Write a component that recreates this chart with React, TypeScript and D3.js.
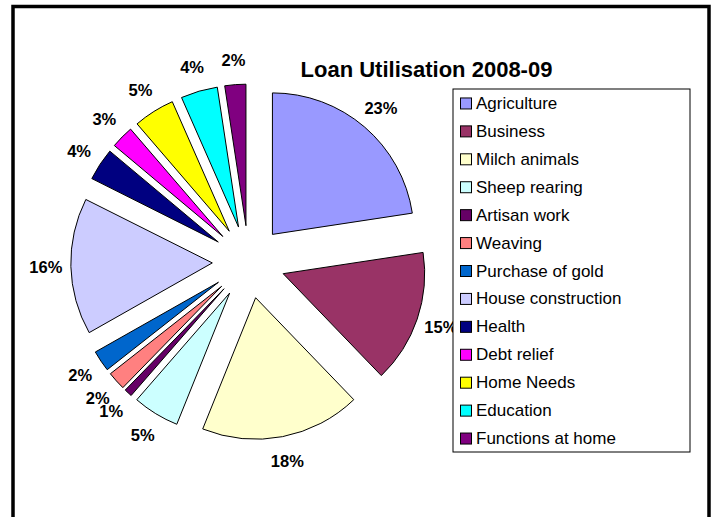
import * as d3 from "d3";

const categories = [
  "Agriculture",
  "Business",
  "Milch animals",
  "Sheep rearing",
  "Artisan work",
  "Weaving",
  "Purchase of gold",
  "House construction",
  "Health",
  "Debt relief",
  "Home Needs",
  "Education",
  "Functions at home",
];

// share of loans (%)
const shares = [22.6, 15.2, 18.3, 5.3, 0.9, 2.1, 2.4, 15.6, 3.7, 2.6, 4.7, 4.2, 2.4];

const colors = [
  "#9999FF",
  "#993366",
  "#FFFFCC",
  "#CCFFFF",
  "#660066",
  "#FF8080",
  "#0066CC",
  "#CCCCFF",
  "#000080",
  "#FF00FF",
  "#FFFF00",
  "#00FFFF",
  "#800080",
];

const title = "Loan Utilisation 2008-09";

const width = 717;
const height = 517;
const cx = 248.7;
const cy = 262;
const radius = 141.5;
const explode = 36.4;
const labelGap = 25;

const legendX = 453;
const legendY = 89;
const legendW = 237;
const legendH = 363;

export default function App() {
  const total = d3.sum(shares);
  const slices = d3
    .pie<number>()
    .sort(null)
    .value((d) => d)(shares);
  const arc = d3
    .arc<d3.PieArcDatum<number>>()
    .innerRadius(0)
    .outerRadius(radius);

  const rows = d3
    .scaleBand<string>()
    .domain(categories)
    .range([legendY, legendY + legendH]);

  return (
    <svg
      width={width}
      height={height}
      style={{ position: "fixed", left: 0, top: 0, background: "#fff" }}
      fontFamily="'Liberation Sans', Arial, sans-serif"
    >
      <rect x={0} y={0} width={width} height={height} fill="#fff" />
      <rect
        x={13}
        y={6.5}
        width={696}
        height={600}
        fill="none"
        stroke="#000"
        strokeWidth={3.5}
      />

      {slices.map((s, i) => {
        const mid = (s.startAngle + s.endAngle) / 2;
        const dx = Math.sin(mid);
        const dy = -Math.cos(mid);
        const ox = cx + dx * explode;
        const oy = cy + dy * explode;
        const lr = radius + labelGap;
        return (
          <g key={categories[i]}>
            <path
              d={arc(s) ?? ""}
              transform={`translate(${ox},${oy})`}
              fill={colors[i]}
              stroke="#000"
              strokeWidth={1}
              strokeLinejoin="round"
            />
            <text
              x={ox + dx * lr}
              y={oy + dy * lr}
              dy="0.36em"
              textAnchor="middle"
              fontSize={16.5}
              fontWeight="bold"
              fill="#000"
            >
              {Math.round((s.value / total) * 100)}%
            </text>
          </g>
        );
      })}

      <text
        x={426.5}
        y={77}
        textAnchor="middle"
        fontSize={22}
        fontWeight="bold"
        fill="#000"
      >
        {title}
      </text>

      <rect
        x={legendX}
        y={legendY}
        width={legendW}
        height={legendH}
        fill="#fff"
        stroke="#000"
        strokeWidth={1}
      />
      {categories.map((c, i) => {
        const yc = (rows(c) ?? 0) + rows.bandwidth() / 2;
        return (
          <g key={c}>
            <rect
              x={460.5}
              y={yc - 5}
              width={11}
              height={11}
              fill={colors[i]}
              stroke="#000"
              strokeWidth={1}
            />
            <text x={476} y={yc + 6} fontSize={17} fill="#000">
              {c}
            </text>
          </g>
        );
      })}
    </svg>
  );
}
